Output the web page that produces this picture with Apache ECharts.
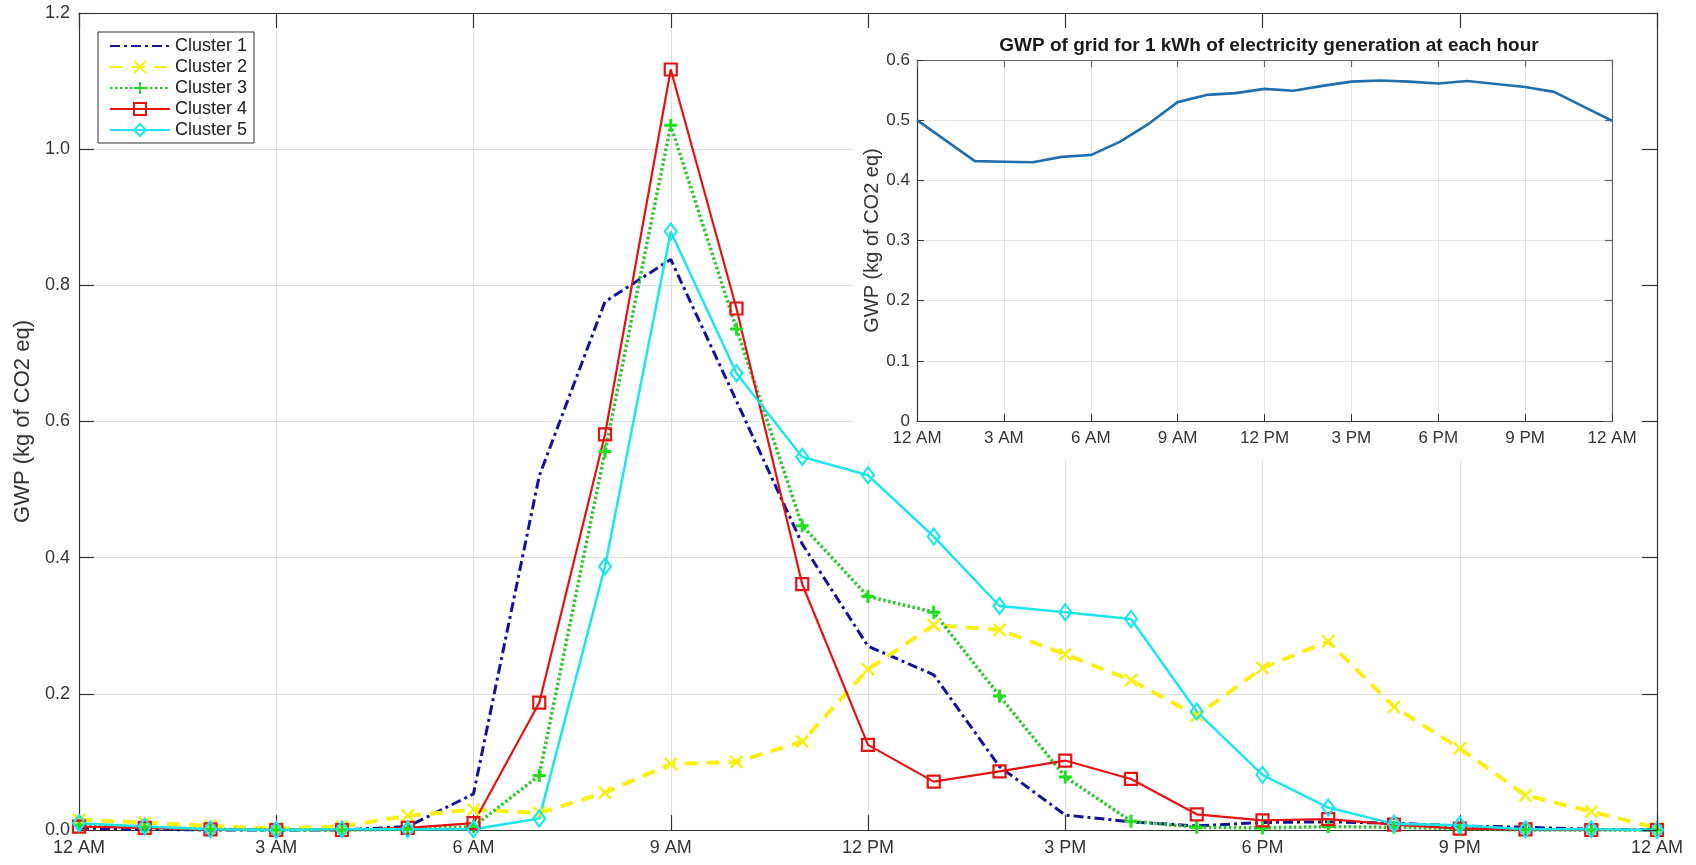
<!DOCTYPE html>
<html><head><meta charset="utf-8">
<script src="https://cdn.jsdelivr.net/npm/echarts@6/dist/echarts.min.js"></script>
<style>html,body{margin:0;padding:0;background:#fff}#c{width:1696px;height:865px}</style>
</head><body><div id="c"></div>
<script>
// ---- data ----
const hours = [0,1,2,3,4,5,6,7,8,9,10,11,12,13,14,15,16,17,18,19,20,21,22,23,24];
const xTickLabels = ['12 AM','3 AM','6 AM','9 AM','12 PM','3 PM','6 PM','9 PM','12 AM'];
const mainYTickLabels = ['0.0','0.2','0.4','0.6','0.8','1.0','1.2'];
const insetYTickLabels = ['0','0.1','0.2','0.3','0.4','0.5','0.6'];
const seriesNames = ['Cluster 1','Cluster 2','Cluster 3','Cluster 4','Cluster 5'];
const cluster1 = [0.003,0.001,0,0,0,0.005,0.053,0.52,0.776,0.838,0.63,0.42,0.27,0.228,0.093,0.022,0.012,0.006,0.011,0.012,0.01,0.006,0.004,0.001,0];
const cluster2 = [0.015,0.011,0.006,0.002,0.005,0.021,0.03,0.025,0.055,0.097,0.10,0.13,0.236,0.301,0.294,0.258,0.22,0.168,0.238,0.277,0.181,0.12,0.051,0.027,0.003];
const cluster3 = [0.007,0.004,0.001,0,0,0.001,0.005,0.08,0.556,1.035,0.736,0.447,0.343,0.32,0.197,0.078,0.013,0.004,0.003,0.005,0.004,0.002,0,0,0];
const cluster4 = [0.005,0.003,0.001,0,0,0.003,0.01,0.187,0.581,1.117,0.766,0.361,0.125,0.071,0.086,0.102,0.075,0.023,0.014,0.016,0.008,0.002,0.001,0,0];
const cluster5 = [0.01,0.005,0.001,0,0.001,0.001,0.001,0.017,0.387,0.879,0.671,0.548,0.521,0.431,0.329,0.32,0.31,0.174,0.081,0.033,0.009,0.007,0.001,0.001,0];
const gridGwp = [0.5,0.466,0.432,0.431,0.430,0.439,0.442,0.464,0.494,0.53,0.542,0.545,0.552,0.549,0.557,0.564,0.566,0.564,0.561,0.565,0.56,0.555,0.547,0.523,0.499];
const insetTitle = 'GWP of grid for 1 kWh of electricity generation at each hour';
const yAxisName = 'GWP (kg of CO2 eq)';

// ---- chart ----
const FONT = '"Liberation Sans", Arial, Helvetica, sans-serif';
const pairs = arr => hours.map((h, i) => [h, arr[i]]);
const axisCol = '#333';
const gridCol = '#dedede';

const chart = echarts.init(document.getElementById('c'), null, {renderer: 'canvas'});

function boxAxis(pos, gridIndex, min, max, interval, tickLen, z, lineCol) {
  return {
    type: 'value', gridIndex, position: pos, min, max, interval, z,
    axisLine: {show: true, onZero: false, lineStyle: {color: lineCol, width: 1.2}},
    axisTick: {show: true, inside: true, length: tickLen, lineStyle: {color: lineCol, width: 1.2}},
    axisLabel: {show: false},
    splitLine: {show: false}
  };
}

const option = {
  animation: false,
  backgroundColor: '#fff',
  textStyle: {fontFamily: FONT},
  title: {
    text: insetTitle, left: 1264, top: 31, textAlign: 'center', z: 8,
    textStyle: {fontFamily: FONT, fontSize: 19, fontWeight: 'bold', color: '#1a1a1a'}
  },
  legend: {
    orient: 'vertical', left: 98, top: 32, z: 8,
    data: [
      {name: seriesNames[0], itemStyle: {opacity: 0}},
      seriesNames[1], seriesNames[2], seriesNames[3], seriesNames[4]
    ],
    backgroundColor: '#fff', borderColor: '#333', borderWidth: 1,
    padding: [5, 7, 4, 11], itemGap: 3, itemWidth: 60, itemHeight: 15,
    textStyle: {fontFamily: FONT, fontSize: 18, color: '#222', lineHeight: 18}
  },
  graphic: [{
    type: 'rect', z: 1, silent: true,
    shape: {x: 853, y: 15, width: 802, height: 445},
    style: {fill: '#fff'}
  }],
  grid: [
    {left: 79, top: 13, right: 39, bottom: 35},
    {left: 917, top: 60, right: 84, bottom: 444}
  ],
  xAxis: [
    {
      type: 'value', gridIndex: 0, position: 'bottom', min: 0, max: 24, interval: 3, z: 0,
      axisLine: {show: true, onZero: false, lineStyle: {color: axisCol, width: 1.2}},
      axisTick: {show: true, inside: true, length: 15, lineStyle: {color: axisCol, width: 1.2}},
      axisLabel: {fontSize: 18, color: '#333', margin: 9, formatter: v => xTickLabels[Math.round(v / 3)]},
      splitLine: {show: true, lineStyle: {color: gridCol, width: 1}}
    },
    boxAxis('top', 0, 0, 24, 3, 15, 5, axisCol),
    {
      type: 'value', gridIndex: 1, position: 'bottom', min: 0, max: 24, interval: 3, z: 3,
      axisLine: {show: true, onZero: false, lineStyle: {color: axisCol, width: 1.2}},
      axisTick: {show: true, inside: true, length: 7, lineStyle: {color: axisCol, width: 1}},
      axisLabel: {fontSize: 17, color: '#333', margin: 9, formatter: v => xTickLabels[Math.round(v / 3)]},
      splitLine: {show: true, lineStyle: {color: '#e4e4e4', width: 1}}
    },
    boxAxis('top', 1, 0, 24, 3, 7, 3, '#666')
  ],
  yAxis: [
    {
      type: 'value', gridIndex: 0, position: 'left', min: 0, max: 1.2, interval: 0.2, z: 0,
      name: yAxisName, nameLocation: 'middle', nameGap: 42,
      nameTextStyle: {fontFamily: FONT, fontSize: 22, color: '#333'},
      axisLine: {show: true, onZero: false, lineStyle: {color: axisCol, width: 1.2}},
      axisTick: {show: true, inside: true, length: 15, lineStyle: {color: axisCol, width: 1.2}},
      axisLabel: {fontSize: 18, color: '#333', margin: 9, formatter: v => mainYTickLabels[Math.round(v / 0.2)]},
      splitLine: {show: true, lineStyle: {color: gridCol, width: 1}}
    },
    boxAxis('right', 0, 0, 1.2, 0.2, 15, 5, axisCol),
    {
      type: 'value', gridIndex: 1, position: 'left', min: 0, max: 0.6, interval: 0.1, z: 3,
      name: yAxisName, nameLocation: 'middle', nameGap: 34,
      nameTextStyle: {fontFamily: FONT, fontSize: 20, color: '#333'},
      axisLine: {show: true, onZero: false, lineStyle: {color: axisCol, width: 1.2}},
      axisTick: {show: true, inside: true, length: 7, lineStyle: {color: axisCol, width: 1}},
      axisLabel: {fontSize: 17, color: '#333', margin: 7, formatter: v => insetYTickLabels[Math.round(v / 0.1)]},
      splitLine: {show: true, lineStyle: {color: '#e4e4e4', width: 1}}
    },
    boxAxis('right', 1, 0, 0.6, 0.1, 7, 3, '#666')
  ],
  series: [
    {
      name: seriesNames[0], type: 'line', xAxisIndex: 0, yAxisIndex: 0, clip: false,
      data: pairs(cluster1), symbol: 'none', color: '#12129c',
      lineStyle: {color: '#12129c', width: 3, type: [10, 4, 3, 4]}
    },
    {
      name: seriesNames[1], type: 'line', xAxisIndex: 0, yAxisIndex: 0, clip: false,
      data: pairs(cluster2), color: '#f6f014',
      symbol: 'path://M0,0L10,10M10,0L0,10', symbolSize: 12,
      itemStyle: {color: 'rgba(0,0,0,0)', borderColor: '#f6f014', borderWidth: 2.5},
      lineStyle: {color: '#f6f014', width: 4, type: [13, 9]}
    },
    {
      name: seriesNames[2], type: 'line', xAxisIndex: 0, yAxisIndex: 0, clip: false,
      data: pairs(cluster3), color: '#22d422',
      symbol: 'path://M5,0L5,10M0,5L10,5', symbolSize: 13,
      itemStyle: {color: 'rgba(0,0,0,0)', borderColor: '#1ee01e', borderWidth: 3},
      lineStyle: {color: '#2fc42f', width: 3.5, type: [2.5, 2.5]}
    },
    {
      name: seriesNames[3], type: 'line', xAxisIndex: 0, yAxisIndex: 0, clip: false,
      data: pairs(cluster4), color: '#e41212',
      symbol: 'rect', symbolSize: 12,
      itemStyle: {color: 'rgba(0,0,0,0)', borderColor: '#e41212', borderWidth: 2.2},
      lineStyle: {color: '#e41212', width: 2.2}
    },
    {
      name: seriesNames[4], type: 'line', xAxisIndex: 0, yAxisIndex: 0, clip: false,
      data: pairs(cluster5), color: '#1ee4ec',
      symbol: 'diamond', symbolSize: [12, 16],
      itemStyle: {color: 'rgba(0,0,0,0)', borderColor: '#1ee4ec', borderWidth: 2.2},
      lineStyle: {color: '#1ee4ec', width: 2.5}
    },
    {
      name: 'Grid GWP', type: 'line', xAxisIndex: 2, yAxisIndex: 2, z: 4,
      data: pairs(gridGwp), symbol: 'none',
      lineStyle: {color: '#1f6fae', width: 2.6}
    }
  ]
};
chart.setOption(option);
</script>
</body></html>
